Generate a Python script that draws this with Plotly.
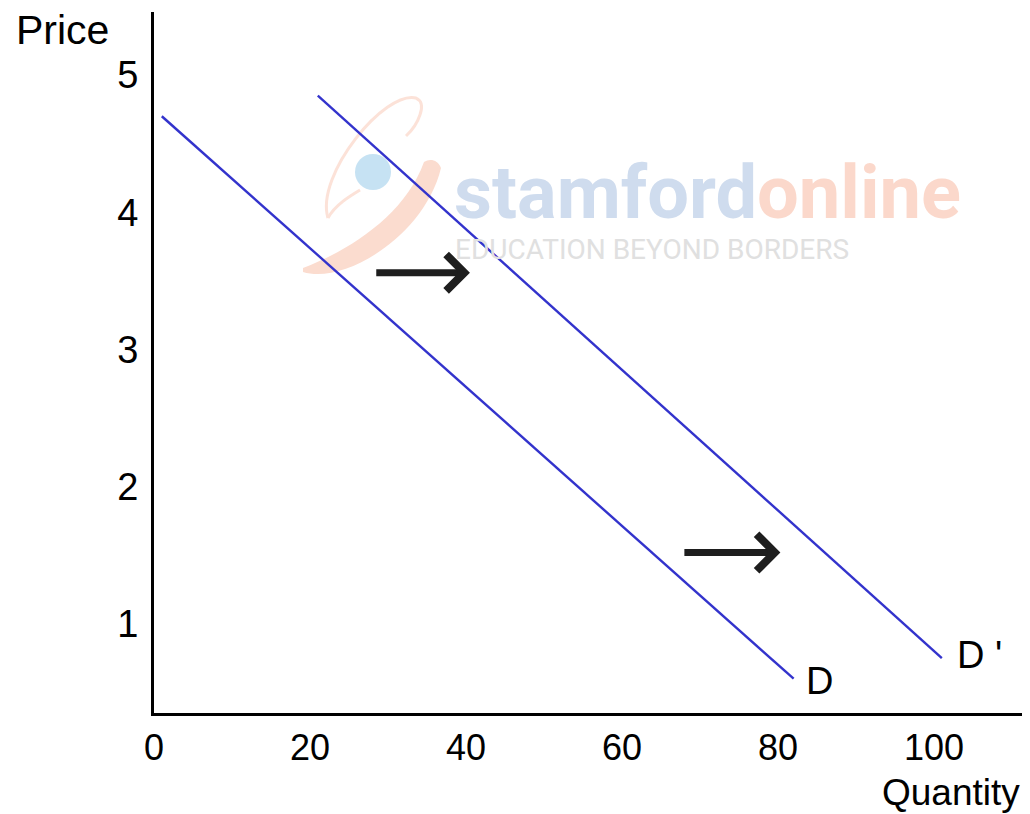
import plotly.graph_objects as go

# demand curves (quantity, price) end points
d_qty = [1, 82]
d_price = [4.7, 0.6]
d2_qty = [21, 101]
d2_price = [4.85, 0.75]

x_ticks = [0, 20, 40, 60, 80, 100]
y_ticks = [1, 2, 3, 4, 5]

x_range = [0, 112.3]
y_range = [0.35, 5.46]

blue = "#3333cc"
font = "Liberation Sans, Arial, sans-serif"
wm_font = "Roboto, Arial, sans-serif"

# page has an 8px body margin, so the figure is a bit smaller than the window
W, H = 1022, 806
L, T, PW, PH = 146, 4, 876, 701


def px(sx):
    # screen pixel -> paper x
    return (sx - 8 - L) / PW


def py(sy):
    # screen pixel -> paper y
    return 1 - (sy - 8 - T) / PH


def path(cmds):
    out = []
    for c in cmds:
        if isinstance(c, str):
            out.append(c)
        else:
            out.append(f"{px(c[0]):.4f},{py(c[1]):.4f}")
    return " ".join(out)


fig = go.Figure()
fig.add_trace(go.Scatter(x=d_qty, y=d_price, mode="lines", line=dict(color=blue, width=2.4), showlegend=False))
fig.add_trace(go.Scatter(x=d2_qty, y=d2_price, mode="lines", line=dict(color=blue, width=2.4), showlegend=False))

# watermark logo (faint)
fig.add_shape(type="path", xref="paper", yref="paper", layer="below",
              path=path(["M", (303, 272), "C", (345, 285), (425, 235), (441, 168),
                         "C", (438, 160), (430, 158), (424, 162),
                         "C", (405, 215), (350, 250), (303, 268), "Z"]),
              fillcolor="#fbdccf", line=dict(width=0))
fig.add_shape(type="path", xref="paper", yref="paper", layer="below",
              path=path(["M", (328, 218), "C", (315, 175), (385, 90), (416, 98),
                         "C", (428, 103), (418, 125), (406, 136)]),
              line=dict(color="#fce2d8", width=3))
fig.add_shape(type="path", xref="paper", yref="paper", layer="below",
              path=path(["M", (328, 218), "C", (335, 205), (350, 196), (360, 190)]),
              line=dict(color="#fce2d8", width=3))
fig.add_shape(type="circle", xref="paper", yref="paper", layer="below",
              x0=px(355), x1=px(391), y0=py(190), y1=py(154),
              fillcolor="#c6e2f3", line=dict(width=0))
fig.add_annotation(text="<b>stamford</b><span style='color:#fbd8cb'><b>online</b></span>",
                   x=px(452), y=py(192), xref="paper", yref="paper", xanchor="left", yanchor="middle",
                   showarrow=False, font=dict(family=wm_font, size=74, color="#cfdcee"))
fig.add_annotation(text="EDUCATION BEYOND BORDERS", x=px(453), y=py(249),
                   xref="paper", yref="paper", xanchor="left", yanchor="middle", showarrow=False,
                   font=dict(family=wm_font, size=28, color="#e0e0e0"))

# shift arrows
for x0, x1, y in [(28.3, 40.5, 3.56), (67.8, 80.3, 1.52)]:
    fig.add_annotation(x=x1, y=y, ax=x0, ay=y, xref="x", yref="y", axref="x", ayref="y", text="",
                       showarrow=True, arrowhead=4, arrowsize=1.0, arrowwidth=7, arrowcolor="#1e1e1e")

# curve labels
fig.add_annotation(x=d_qty[1] + 3.3, y=d_price[1] - 0.02, text="D", showarrow=False,
                   font=dict(family=font, size=38, color="black"))
fig.add_annotation(x=d2_qty[1] + 4.8, y=d2_price[1] + 0.02, text="D '", showarrow=False,
                   font=dict(family=font, size=38, color="black"))

# axis titles
fig.add_annotation(x=px(14), y=py(30), xref="paper", yref="paper", text="Price",
                   xanchor="left", yanchor="middle", showarrow=False,
                   font=dict(family=font, size=41, color="black"))
fig.add_annotation(x=px(1022), y=py(792), xref="paper", yref="paper", text="Quantity",
                   xanchor="right", yanchor="middle", showarrow=False,
                   font=dict(family=font, size=37, color="black"))

fig.update_xaxes(range=x_range, tickvals=x_ticks, showgrid=False, zeroline=False,
                 showline=True, linecolor="black", linewidth=3, ticks="", ticklabelstandoff=1,
                 tickfont=dict(family=font, size=36, color="black"))
fig.update_yaxes(range=y_range, tickvals=y_ticks, showgrid=False, zeroline=False,
                 showline=True, linecolor="black", linewidth=3, ticks="", ticklabelstandoff=5,
                 tickfont=dict(family=font, size=38, color="black"))
fig.update_layout(width=W, height=H, margin=dict(l=L, r=W - L - PW, t=T, b=H - T - PH, autoexpand=False),
                  plot_bgcolor="white", paper_bgcolor="white")
fig.write_html("out.html")
